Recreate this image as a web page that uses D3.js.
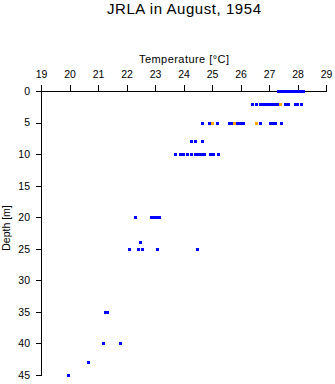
<!DOCTYPE html>
<html>
<head>
<meta charset="utf-8">
<script src="https://cdn.jsdelivr.net/npm/d3@7"></script>
<style>
  html, body { margin: 0; padding: 0; background: #fff; }
  svg { display: block; font-family: "Liberation Sans", Arial, sans-serif; }
</style>
</head>
<body>
<svg id="chart" width="335" height="384"></svg>
<script>
const title = "JRLA in August, 1954";
const xLabel = "Temperature [°C]";
const yLabel = "Depth [m]";
const xTicks = [19, 20, 21, 22, 23, 24, 25, 26, 27, 28, 29];
const yTicks = [0, 5, 10, 15, 20, 25, 30, 35, 40, 45];

const blueDepth = [
  0,0,0,0,0,0,0,0,0,0,0,0,0,0,
  2,2,2,2,2,2,2,2,2,2,2,2,2,2,2,
  5,5,5,5,5,5,5,5,5,5,5,5,5,
  8,8,8,
  10,10,10,10,10,10,10,10,10,10,10,10,10,
  20,20,20,20,20,
  24,
  25,25,25,25,25,
  35,35,
  40,40,
  43,
  45
];
const blueTemp = [
  27.30,27.37,27.44,27.51,27.58,27.65,27.72,27.79,27.86,27.93,28.00,28.07,28.14,28.21,
  26.41,26.54,26.69,26.76,26.85,26.97,27.08,27.14,27.25,27.31,27.55,27.68,27.90,27.97,28.13,
  24.65,24.88,25.19,25.61,25.70,25.86,25.99,26.08,26.70,27.03,27.13,27.22,27.43,
  24.25,24.40,24.66,
  23.71,23.89,23.97,24.11,24.27,24.41,24.50,24.58,24.66,24.72,24.94,25.04,25.22,
  22.29,22.87,22.96,23.06,23.13,
  22.48,
  22.10,22.41,22.53,23.08,24.47,
  21.26,21.31,
  21.19,21.76,
  20.65,
  19.96
];
const orangeDepth = [2, 5, 5, 5];
const orangeTemp = [27.40, 25.01, 25.76, 26.55];

const svg = d3.select("#chart");
const x = d3.scaleLinear().domain([19, 29]).range([41, 326]);
const y = d3.scaleLinear().domain([0, 45]).range([91, 375]);

// title
svg.append("text")
  .attr("x", 184).attr("y", 14)
  .attr("text-anchor", "middle")
  .attr("font-size", 15)
  .attr("textLength", 154).attr("lengthAdjust", "spacing")
  .text(title);

// x label
svg.append("text")
  .attr("x", 184).attr("y", 63)
  .attr("text-anchor", "middle")
  .attr("font-size", 11)
  .attr("textLength", 90).attr("lengthAdjust", "spacing")
  .text(xLabel);

// y label
svg.append("text")
  .attr("transform", "translate(10,228) rotate(-90)")
  .attr("text-anchor", "middle")
  .attr("font-size", 10.5)
  .text(yLabel);

// x axis (top)
const gx = svg.append("g")
  .attr("transform", `translate(0,${y(0)})`)
  .call(d3.axisTop(x).tickValues(xTicks).tickFormat(d3.format("d"))
    .tickSize(6).tickSizeOuter(6).tickPadding(7));
gx.selectAll("text").attr("font-size", 10.5).attr("fill", "#000").attr("font-family", "Liberation Sans, Arial, sans-serif");
gx.selectAll("line,path").attr("stroke", "#000").attr("shape-rendering", "crispEdges");

// y axis (left)
const gy = svg.append("g")
  .attr("transform", `translate(${x(19)},0)`)
  .call(d3.axisLeft(y).tickValues(yTicks).tickFormat(d3.format("d"))
    .tickSize(5).tickSizeOuter(0).tickPadding(6));
gy.selectAll("text").attr("font-size", 10.5).attr("fill", "#000").attr("font-family", "Liberation Sans, Arial, sans-serif");
gy.selectAll("line,path").attr("stroke", "#000").attr("shape-rendering", "crispEdges");

// points
const blue = blueTemp.map((t, i) => ({t, d: blueDepth[i]}));
const orange = orangeTemp.map((t, i) => ({t, d: orangeDepth[i]}));

svg.append("g").selectAll("rect").data(blue).join("rect")
  .attr("x", d => Math.round(x(d.t)) - 1.5)
  .attr("y", d => Math.round(y(d.d)) - 1.5)
  .attr("width", 3).attr("height", 3)
  .attr("fill", "#0000ff")
  .attr("shape-rendering", "crispEdges");

svg.append("g").selectAll("rect").data(orange).join("rect")
  .attr("x", d => Math.round(x(d.t)) - 1.5)
  .attr("y", d => Math.round(y(d.d)) - 1.5)
  .attr("width", 3).attr("height", 3)
  .attr("fill", "#ffa500")
  .attr("shape-rendering", "crispEdges");
</script>
</body>
</html>
